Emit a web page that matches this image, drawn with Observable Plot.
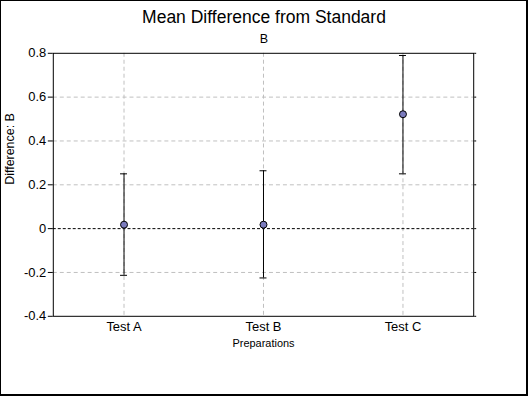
<!DOCTYPE html>
<html>
<head>
<meta charset="utf-8">
<script src="https://cdn.jsdelivr.net/npm/d3@7"></script>
<script src="https://cdn.jsdelivr.net/npm/@observablehq/plot@0.6"></script>
<style>
  html, body { margin: 0; padding: 0; background: #fff; }
  #wrap { position: relative; width: 528px; height: 396px; box-sizing: border-box;
          border: 1px solid #000; border-right-width: 2px; border-bottom-width: 2px; overflow: hidden;
          font-family: Arial, "Liberation Sans", sans-serif; }
  #chart { position: absolute; left: -1px; top: -1px; }
  .title { position: absolute; left: -1px; width: 528px; text-align: center; color: #000; }
  #t1 { top: 6px; font-size: 17.5px; }
  #t2 { top: 31px; font-size: 12.5px; }
</style>
</head>
<body>
<div id="wrap">
  <div id="chart"></div>
  <div class="title" id="t1">Mean Difference from Standard</div>
  <div class="title" id="t2">B</div>
</div>
<script>
const categories = ["Test A", "Test B", "Test C"];
const means = [0.018, 0.018, 0.522];
const lowers = [-0.213, -0.225, 0.250];
const uppers = [0.250, 0.264, 0.790];
const yTicks = [-0.4, -0.2, 0, 0.2, 0.4, 0.6, 0.8];

const data = categories.map((c, i) => ({cat: c, mean: means[i], lo: lowers[i], hi: uppers[i]}));
const fmt = d => Math.abs(d) < 1e-9 ? "0" : d.toFixed(1);

const chart = Plot.plot({
  width: 528,
  height: 396,
  marginLeft: 53,
  marginRight: 53,
  marginTop: 53,
  marginBottom: 79,
  style: {fontFamily: 'Arial, "Liberation Sans", sans-serif', fontSize: "12px", color: "#000", background: "transparent"},
  x: {type: "point", domain: categories, padding: 0.5},
  y: {domain: [-0.4, 0.8]},
  marks: [
    Plot.ruleX(categories, {x: d => d, stroke: "#c0c0c0", strokeDasharray: "4,3"}),
    Plot.ruleY(yTicks.filter(d => d !== 0 && d !== 0.8 && d !== -0.4), {y: d => d, stroke: "#c0c0c0", strokeDasharray: "4,3"}),
    Plot.ruleY([0], {stroke: "#000", strokeDasharray: "3,2"}),
    Plot.frame({stroke: "#000", strokeWidth: 1}),
    Plot.axisY({ticks: yTicks, tickFormat: fmt, tickSize: 5, tickPadding: 2, fontSize: 13, label: null}),
    Plot.axisY({ticks: yTicks, anchor: "right", tickSize: 2, tickFormat: () => "", label: null}),
    Plot.axisX({tickSize: 0, tickPadding: 6, fontSize: 13, label: null}),
    Plot.text(["Difference: B"], {frameAnchor: "left", dx: -43, rotate: -90, fontSize: 12.5, fill: "#000"}),
    Plot.text(["Preparations"], {frameAnchor: "bottom", dy: 31, fontSize: 11, fill: "#000"}),
    Plot.ruleX(data, {x: "cat", y1: "lo", y2: "hi", stroke: "#000", strokeWidth: 1}),
    Plot.ruleY(data, {x1: "cat", x2: "cat", y: "lo", insetLeft: -3.5, insetRight: -3.5, stroke: "#000"}),
    Plot.ruleY(data, {x1: "cat", x2: "cat", y: "hi", insetLeft: -3.5, insetRight: -3.5, stroke: "#000"}),
    Plot.dot(data, {x: "cat", y: "mean", r: 3.5, fill: "#7b7bbd", stroke: "#000", strokeWidth: 1})
  ]
});
document.getElementById("chart").appendChild(chart);
</script>
</body>
</html>
